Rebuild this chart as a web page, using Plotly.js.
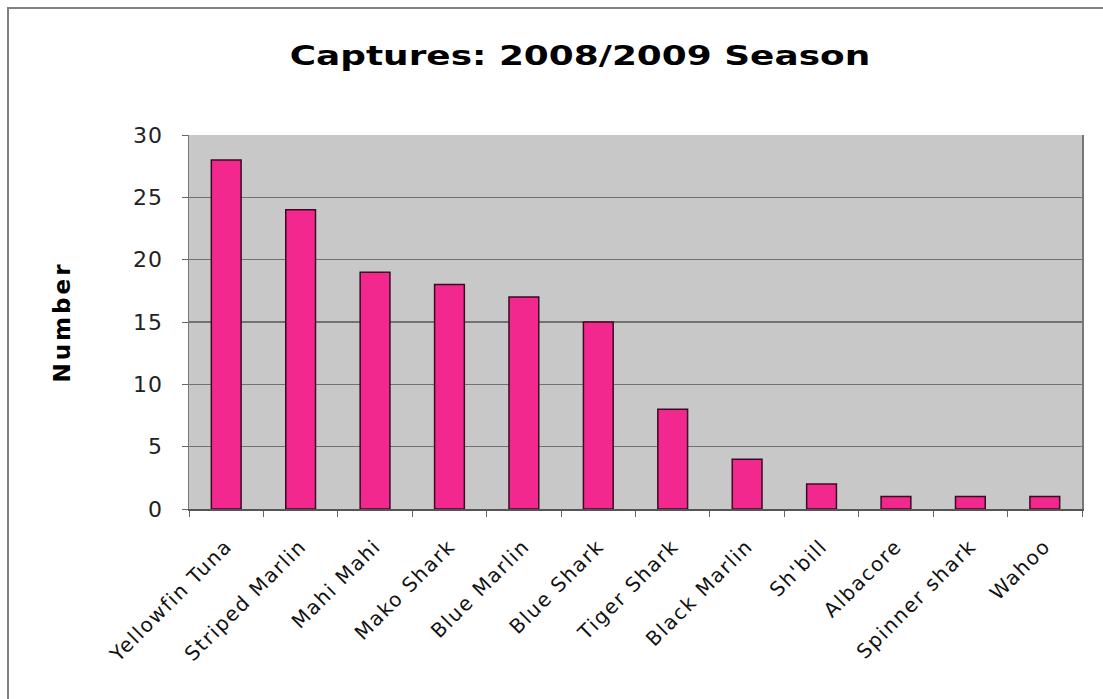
<!DOCTYPE html>
<html>
<head>
<meta charset="utf-8">
<script src="https://cdn.plot.ly/plotly-3.0.1.min.js"></script>
<style>
  html, body { margin: 0; padding: 0; background: #ffffff; }
  #chart { width: 1103px; height: 699px; }
  /* wider, Verdana-like proportions for the chart text */
  #chart .gtitle {
    transform-box: fill-box;
    transform-origin: center;
    transform: scaleX(1.33);
  }
  #chart .ytitle { letter-spacing: 3px; }
  #chart .xtick text { letter-spacing: 1.6px; }
  #chart .ytick text { letter-spacing: 1px; }
</style>
</head>
<body>
<div id="chart"></div>
<script>
// Catch counts per species for the 2008/2009 season
const species = [
  "Yellowfin Tuna", "Striped Marlin", "Mahi Mahi", "Mako Shark",
  "Blue Marlin", "Blue Shark", "Tiger Shark", "Black Marlin",
  "Sh'bill", "Albacore", "Spinner shark", "Wahoo"
];
const captures = [28, 24, 19, 18, 17, 15, 8, 4, 2, 1, 1, 1];
const yTicks = [0, 5, 10, 15, 20, 25, 30];

const font = "DejaVu Sans, Verdana, sans-serif";

const trace = {
  type: "bar",
  x: species,
  y: captures,
  marker: {
    color: "#F2288E",
    line: { color: "#3a0a22", width: 1.5 }
  },
  hoverinfo: "x+y"
};

const layout = {
  width: 1103,
  height: 699,
  margin: { l: 189, r: 21, t: 135, b: 190 },
  paper_bgcolor: "#ffffff",
  plot_bgcolor: "#C8C8C8",
  showlegend: false,
  bargap: 0.6,
  title: {
    text: "<b>Captures: 2008/2009 Season</b>",
    font: { family: font, size: 27, color: "#000000" },
    xref: "container",
    x: 580 / 1103,
    xanchor: "center",
    y: 1 - 56 / 699,
    yanchor: "middle"
  },
  xaxis: {
    type: "category",
    tickangle: -45,
    tickfont: { family: font, size: 20, color: "#111111" },
    ticks: "outside",
    tickson: "boundaries",
    ticklen: 6,
    tickcolor: "#666666",
    ticklabelstandoff: 16,
    showline: true,
    linecolor: "#555555",
    linewidth: 1.5,
    mirror: false,
    showgrid: false
  },
  yaxis: {
    range: [0, 30],
    tickvals: yTicks,
    ticktext: yTicks.map(String),
    tickfont: { family: font, size: 22, color: "#222222" },
    ticks: "outside",
    ticklen: 6,
    tickcolor: "#666666",
    ticklabelstandoff: 14,
    showline: true,
    linecolor: "#777777",
    linewidth: 1.5,
    mirror: true,
    showgrid: true,
    gridcolor: "#727272",
    gridwidth: 1.5,
    zeroline: false,
    title: {
      text: "<b>Number</b>",
      font: { family: font, size: 23, color: "#000000" },
      standoff: 58
    }
  },
  shapes: [
    {
      type: "rect",
      xref: "paper", yref: "paper",
      x0: (8 - 189) / 893, x1: 1.2,
      y0: -1, y1: 1 + (135 - 8) / 374,
      line: { color: "#808080", width: 2 },
      fillcolor: "rgba(0,0,0,0)",
      layer: "below"
    }
  ]
};

Plotly.newPlot("chart", [trace], layout, { displayModeBar: false, staticPlot: true });
</script>
</body>
</html>
